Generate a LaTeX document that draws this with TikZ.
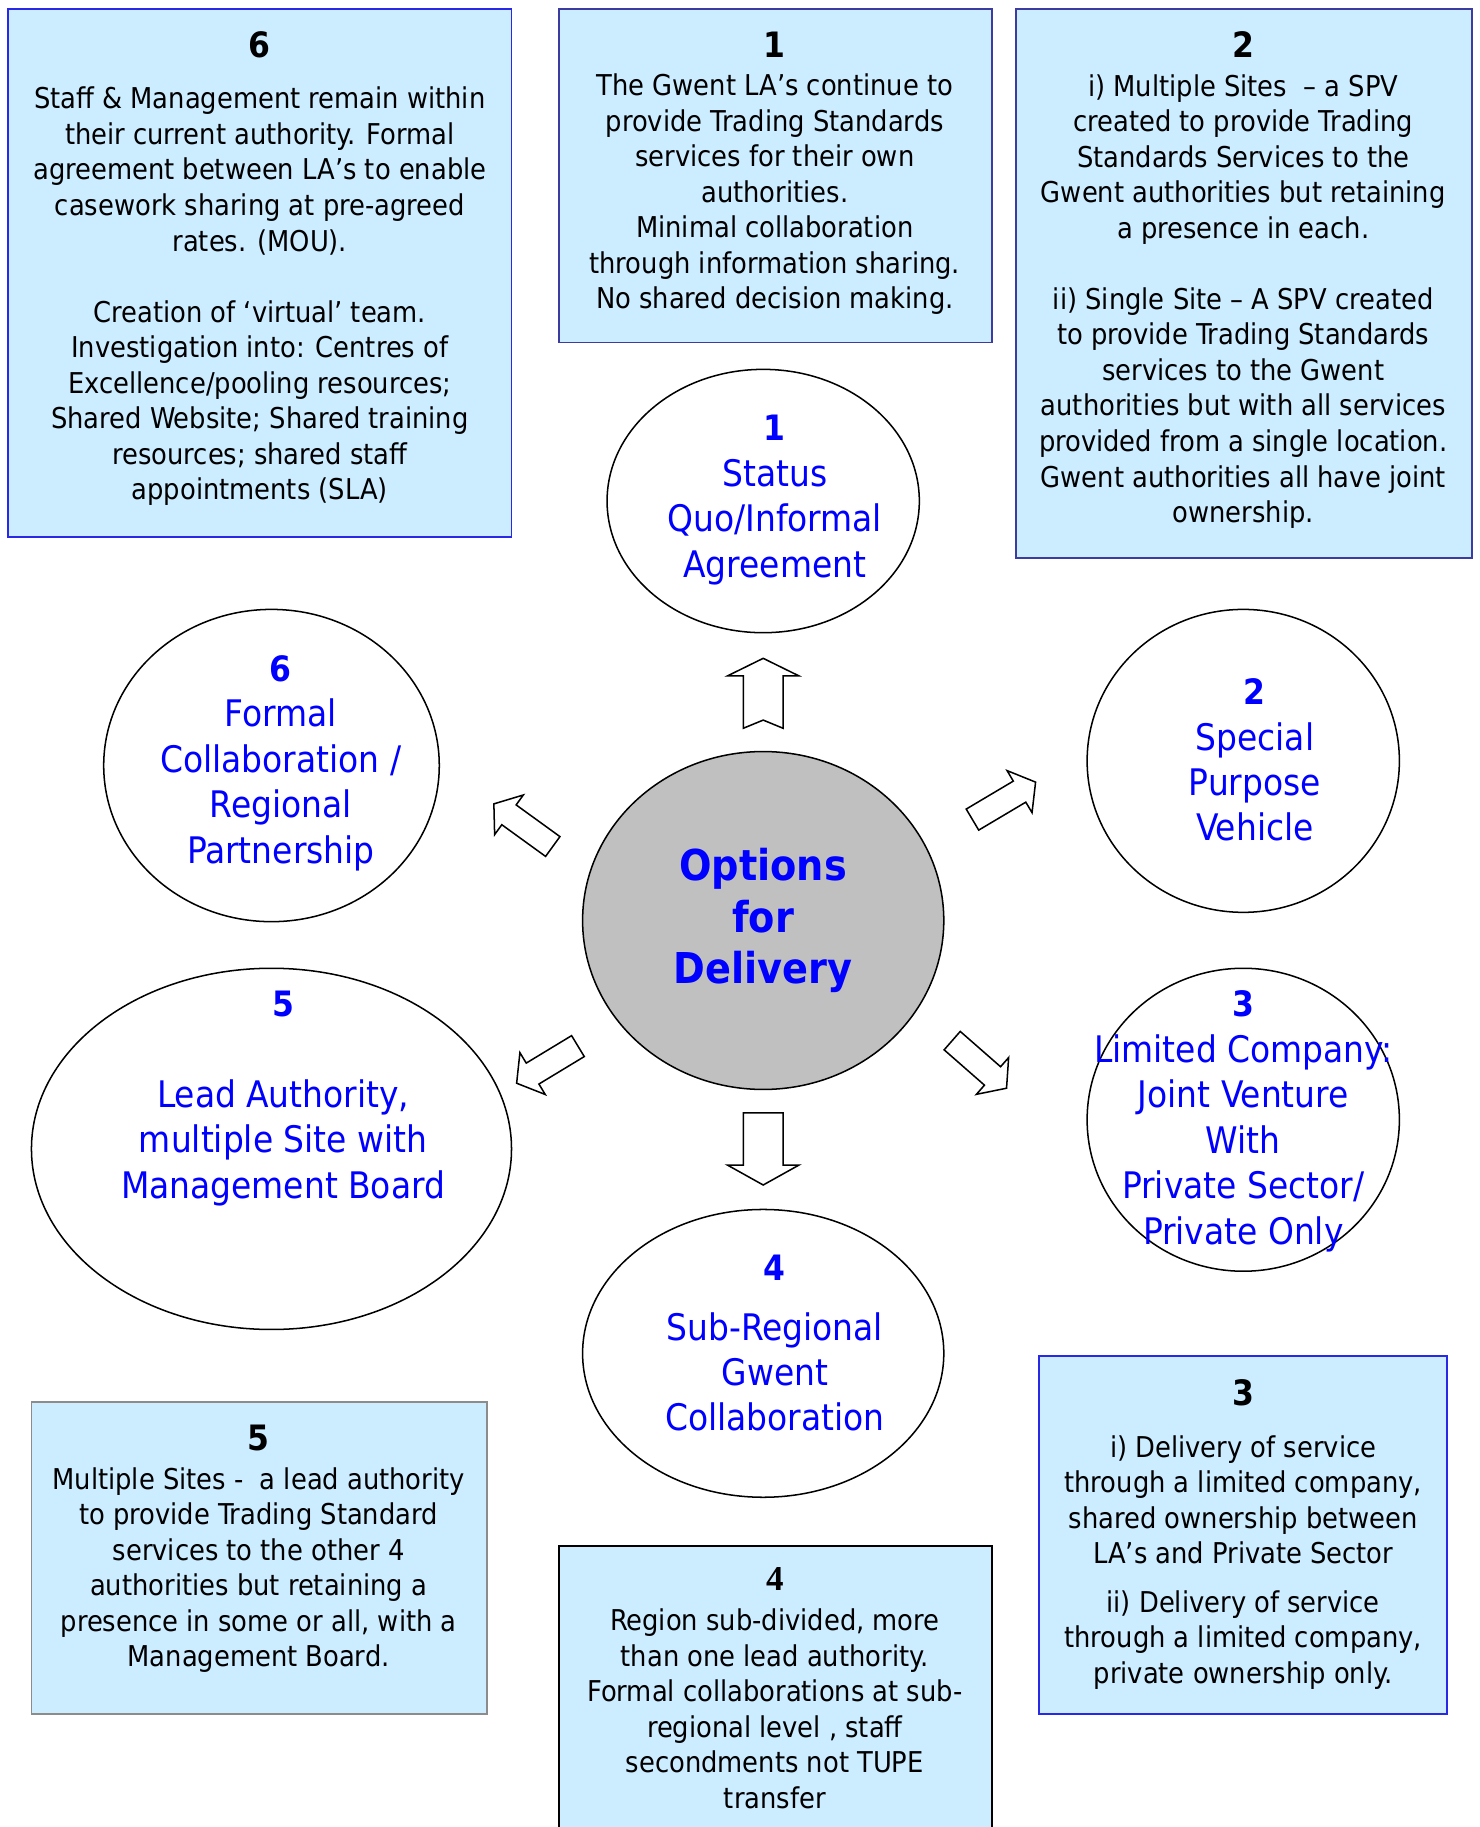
\documentclass[tikz,border=0pt]{standalone}
\usepackage{fontspec}
\setmainfont{DejaVu Sans Condensed}
\newfontfamily\numserif{Liberation Serif}
\usepackage{tikz}
\usetikzlibrary{shapes.geometric}
\definecolor{boxfill}{RGB}{204,236,255}
\definecolor{optblue}{RGB}{0,0,255}
\definecolor{hubgray}{RGB}{192,192,192}
\definecolor{rimblue}{RGB}{40,40,230}
\definecolor{rimslate}{RGB}{60,60,160}
\definecolor{rimgray}{RGB}{140,140,140}
\newcommand{\boxnum}[1]{{\fontsize{30}{30.5}\selectfont\bfseries #1}}
\newcommand{\ovalnum}[1]{{\fontsize{30}{39}\selectfont\bfseries #1}}

\begin{document}
\begin{tikzpicture}[x=1pt,y=-1pt,
  optbox/.style={draw=#1,fill=boxfill,line width=1.6pt,inner sep=0pt},
  boxtext/.style={anchor=north,inner sep=0pt,align=center,font=\fontsize{24.6}{30.5}\selectfont},
  oval/.style={ellipse,draw,line width=1.3pt,inner sep=0pt},
  ovaltext/.style={anchor=north,inner sep=0pt,align=center,text=optblue,font=\fontsize{31.4}{39}\selectfont},
  pics/blockarrow/.style args={#1/#2/#3/#4/#5}{code={
    \draw[line width=1.3pt,fill=white,line join=miter]
      (0,-#3) -- (#1-#2,-#3) -- (#1-#2,-#4) -- (#1,0) -- (#1-#2,#4) -- (#1-#2,#3) -- (0,#3) -- (#5,0) -- cycle;
  }}]
\useasboundingbox (0,0) rectangle (1270,1568);

\node[optbox=rimblue,minimum width=432,minimum height=453] (box6) at (223,234.5) {};
\node[optbox=rimslate,minimum width=371,minimum height=286] (box1) at (665.5,151) {};
\node[optbox=rimslate,minimum width=391,minimum height=471] (box2) at (1067.5,243.5) {};
\node[optbox=rimgray,minimum width=391,minimum height=268] (box5) at (222.5,1337) {};
\node[optbox=black,minimum width=371,minimum height=253] (box4) at (665.5,1453.5) {};
\node[optbox=rimblue,minimum width=350,minimum height=307] (box3) at (1067,1317.5) {};

\node[boxtext] (box6txt) at (223,27) {\boxnum{6}\\[13.5pt]Staff \& Management remain within\\their current authority. Formal\\agreement between LA’s to enable\\casework sharing at pre-agreed\\rates. (MOU).\\[30.5pt]Creation of ‘virtual’ team.\\Investigation into: Centres of\\Excellence/pooling resources;\\Shared Website; Shared training\\resources; shared staff\\appointments (SLA)};
\node[boxtext] (box1txt) at (665,27) {\boxnum{1}\\[2.5pt]The Gwent LA’s continue to\\provide Trading Standards\\services for their own\\authorities.\\Minimal collaboration\\through information sharing.\\No shared decision making.};
\node[boxtext] (box2txt) at (1067,27) {\boxnum{2}\\[2.5pt]i) Multiple Sites\ \ – a SPV\\created to provide Trading\\Standards Services to the\\Gwent authorities but retaining\\a presence in each.\\[30.5pt]ii) Single Site – A SPV created\\to provide Trading Standards\\services to the Gwent\\authorities but with all services\\provided from a single location.\\Gwent authorities all have joint\\ownership.};
\node[boxtext] (box5txt) at (222,1223) {\boxnum{5}\\[2.5pt]Multiple Sites -\ \ a lead authority\\to provide Trading Standard\\services to the other 4\\authorities but retaining a\\presence in some or all, with a\\Management Board.};
\node[boxtext] (box4txt) at (665,1345) {{\numserif\fontsize{30}{30.5}\selectfont\bfseries 4}\\[4pt]Region sub-divided, more\\than one lead authority.\\Formal collaborations at sub-\\regional level , staff\\secondments not TUPE\\transfer};
\node[boxtext] (box3txt) at (1067,1184) {\boxnum{3}\\[13.5pt]i) Delivery of service\\through a limited company,\\shared ownership between\\LA’s and Private Sector\\[11pt]ii) Delivery of service\\through a limited company,\\private ownership only.};

\node[oval,minimum width=268,minimum height=226] (quo) at (655,430) {};
\node[oval,minimum width=288,minimum height=268] (formal) at (233,657) {};
\node[oval,minimum width=268,minimum height=260] (spv) at (1067,653) {};
\node[oval,fill=hubgray,minimum width=310,minimum height=290] (hub) at (655,790) {};
\node[oval,minimum width=412,minimum height=310] (lead) at (233,986) {};
\node[oval,minimum width=268,minimum height=260] (ltd) at (1067,961) {};
\node[oval,minimum width=310,minimum height=247] (subreg) at (655,1161.5) {};

\node[ovaltext] (quotxt) at (665,356.3) {\ovalnum{1}\\Status\\Quo/Informal\\Agreement};
\node[ovaltext] (formaltxt) at (241,562.3) {\ovalnum{6}\\Formal\\Collaboration /\\Regional\\Partnership};
\node[ovaltext] (spvtxt) at (1077,582.3) {\ovalnum{2}\\Special\\Purpose\\Vehicle};
\node[ovaltext,font=\fontsize{36.5}{44}\selectfont\bfseries] (hubtxt) at (655,728) {Options\\for\\Delivery};
\node[ovaltext] (leadtxt) at (243,850.3) {\ovalnum{5}\\[39pt]Lead Authority,\\multiple Site with\\Management Board};
\node[ovaltext] (ltdtxt) at (1067,850.3) {\ovalnum{3}\\Limited Company:\\Joint Venture\\With\\Private Sector/\\Private Only};
\node[ovaltext] (subregtxt) at (665,1077.3) {\ovalnum{4}\\[11.75pt]Sub-Regional\\Gwent\\Collaboration};

\pic[rotate=90] at (655,625) {blockarrow=60/15/17/30.5/7};
\pic[rotate=-90] at (655,955) {blockarrow=62/17/17/30.5/0};
\pic[rotate=30.7] at (834.6,703.4) {blockarrow=63/16/10.5/21/0};
\pic[rotate=144.1] at (474.4,726.5) {blockarrow=62.4/16/10.5/21/0};
\pic[rotate=211.2] at (496,897.8) {blockarrow=61.5/16/10.5/21/0};
\pic[rotate=-41.2] at (817.2,893.1) {blockarrow=62/16/10.5/21/0};
\end{tikzpicture}
\end{document}
